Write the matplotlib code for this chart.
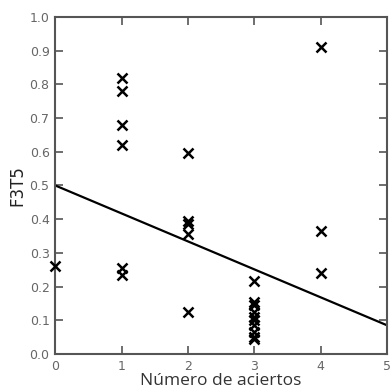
import matplotlib
matplotlib.use("Agg")
import matplotlib.pyplot as plt

# data
x0 = [0]
y0 = [0.26]
x1 = [1, 1, 1, 1, 1, 1]
y1 = [0.82, 0.78, 0.68, 0.62, 0.255, 0.235]
x2 = [2, 2, 2, 2, 2]
y2 = [0.595, 0.395, 0.385, 0.355, 0.125]
x3 = [3] * 10
y3 = [0.215, 0.155, 0.145, 0.125, 0.11, 0.1, 0.085, 0.065, 0.05, 0.045]
x4 = [4, 4, 4]
y4 = [0.91, 0.365, 0.24]
fit_x = [0, 5]
fit_y = [0.50, 0.085]

xs = x0 + x1 + x2 + x3 + x4
ys = y0 + y1 + y2 + y3 + y4

fig = plt.figure(figsize=(3.91, 3.92), dpi=100)
ax = fig.add_axes([0.141, 0.097, 0.849, 0.860])

ax.plot(xs, ys, linestyle='none', marker='x', color='black',
        markersize=7.5, markeredgewidth=1.8, clip_on=False, zorder=3)
ax.plot(fit_x, fit_y, color='black', linewidth=1.6)

ax.set_xlim(0, 5)
ax.set_ylim(0, 1.0)
ax.set_xticks([0, 1, 2, 3, 4, 5])
ax.set_yticks([0.0, 0.1, 0.2, 0.3, 0.4, 0.5, 0.6, 0.7, 0.8, 0.9, 1.0])
ax.set_yticklabels(['0.0', '0.1', '0.2', '0.3', '0.4', '0.5', '0.6',
                    '0.7', '0.8', '0.9', '1.0'])

for s in ax.spines.values():
    s.set_color('#555555')
    s.set_linewidth(1.5)

ax.tick_params(direction='in', length=6, width=1.2, color='#555555',
               top=True, right=True, labelsize=9, labelcolor='#666666',
               pad=4)

ax.set_xlabel('Número de aciertos', fontsize=12.5, color='#333333', labelpad=0,
              family='Open Sans')
ax.set_ylabel('F3T5', fontsize=12, color='#222222', labelpad=2)

fig.savefig('out.png', dpi=100)
